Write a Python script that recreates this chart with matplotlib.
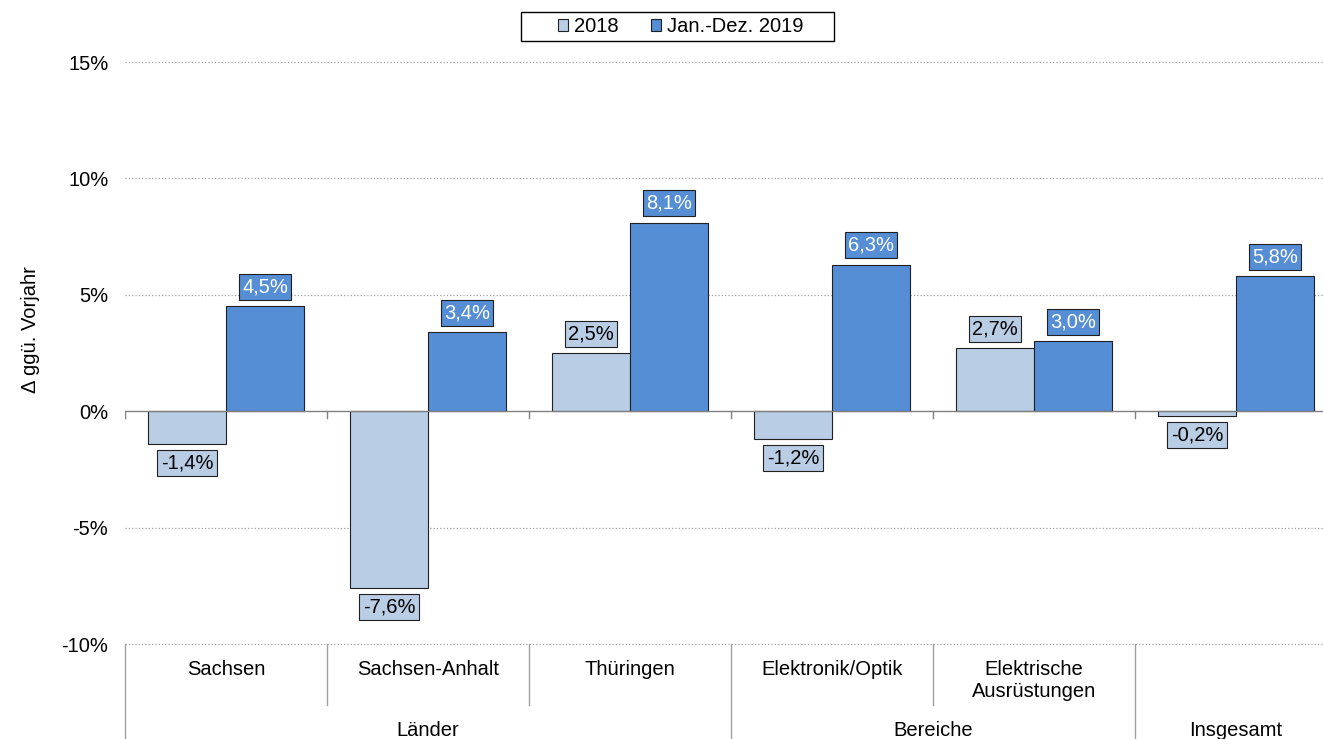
import matplotlib.pyplot as plt
from matplotlib.patches import Rectangle
import numpy as np

plt.rcParams['font.family'] = ['Liberation Sans', 'DejaVu Sans']

# Data
categories = ["Sachsen", "Sachsen-Anhalt", "Thüringen", "Elektronik/Optik",
              "Elektrische\nAusrüstungen", ""]
groups = ["Länder", "Bereiche", "Insgesamt"]
group_spans = [(0, 3), (3, 5), (5, 6)]
series_names = ["2018", "Jan.-Dez. 2019"]
vals_2018 = [-1.4, -7.6, 2.5, -1.2, 2.7, -0.2]
vals_2019 = [4.5, 3.4, 8.1, 6.3, 3.0, 5.8]

light = "#B9CDE5"
dark = "#558ED5"
fs = 14.5

fig = plt.figure(figsize=(13.23, 7.39), dpi=100)
ax = fig.add_axes([125 / 1323, 95 / 739, 1212 / 1323, 582 / 739])

x = np.arange(len(categories))
w = 0.386
b1 = ax.bar(x - w / 2, vals_2018, w, color=light, edgecolor="#202020", linewidth=0.8,
            label=series_names[0], zorder=3)
b2 = ax.bar(x + w / 2, vals_2019, w, color=dark, edgecolor="#202020", linewidth=0.8,
            label=series_names[1], zorder=3)

# Data labels in boxes
def add_labels(bars, vals, fc, tc):
    for rect, v in zip(bars, vals):
        cx = rect.get_x() + rect.get_width() / 2
        off = 7 if v >= 0 else -7
        ax.annotate(f"{v:.1f}%".replace(".", ","), (cx, v), xytext=(0, off),
                    textcoords="offset points", ha="center",
                    va="bottom" if v >= 0 else "top", fontsize=fs, color=tc,
                    bbox=dict(boxstyle="square,pad=0.17", fc=fc, ec="#202020", lw=0.8),
                    zorder=5)

add_labels(b1, vals_2018, light, "black")
add_labels(b2, vals_2019, dark, "white")

# Axes styling
ax.set_xlim(-0.5, 5.5)
ax.set_ylim(-10, 15)
ax.set_yticks([-10, -5, 0, 5, 10, 15])
ax.set_yticklabels([f"{t}%" for t in [-10, -5, 0, 5, 10, 15]], fontsize=fs)
ax.tick_params(axis="y", length=0, pad=12)
ax.set_xticks([])
for s in ax.spines.values():
    s.set_visible(False)
for t in [-10, -5, 5, 10, 15]:
    ax.axhline(t, color="#A0A0A0", linestyle=":", linewidth=0.9, zorder=1, clip_on=False)
ax.axhline(0, color="#808080", linewidth=1.0, zorder=4)
for b in np.arange(-0.5, 6, 1):
    ax.plot([b, b], [0, -0.3], color="#808080", linewidth=1.0, zorder=4)

ax.set_ylabel("Δ ggü. Vorjahr", fontsize=fs)
ax.yaxis.set_label_coords(-0.07, 0.54)

# Multi-level category axis
tr = ax.get_xaxis_transform()
group_edges = {-0.5, 2.5, 4.5, 5.5}
for b in np.arange(-0.5, 6, 1):
    y_end = -0.17 if b in group_edges else -0.105
    ax.plot([b, b], [0, y_end], transform=tr, color="#A0A0A0", linewidth=1.0, clip_on=False)
for i, c in enumerate(categories):
    ax.text(i, -0.028, c, transform=tr, ha="center", va="top", fontsize=fs,
            linespacing=1.2)
for g, (a, e) in zip(groups, group_spans):
    ax.text((a + e - 1) / 2, -0.148, g, transform=tr, ha="center", va="center", fontsize=fs)

# Legend (frame drawn separately to match the wide box)
leg = fig.legend(loc="center", bbox_to_anchor=(681 / 1323, 1 - 26.5 / 739), ncol=2,
                 fontsize=fs, frameon=False,
                 handlelength=0.5, handleheight=0.5, handletextpad=0.3, columnspacing=1.6,
                 borderaxespad=0, borderpad=0.0)
for h in leg.legend_handles:
    h.set_edgecolor("#202020")
    h.set_linewidth(0.8)
fig.patches.append(Rectangle((521 / 1323, 1 - 41 / 739), 313 / 1323, 29 / 739,
                             transform=fig.transFigure, fill=False, ec="black", lw=1.0))

plt.savefig("out.png", dpi=100)
